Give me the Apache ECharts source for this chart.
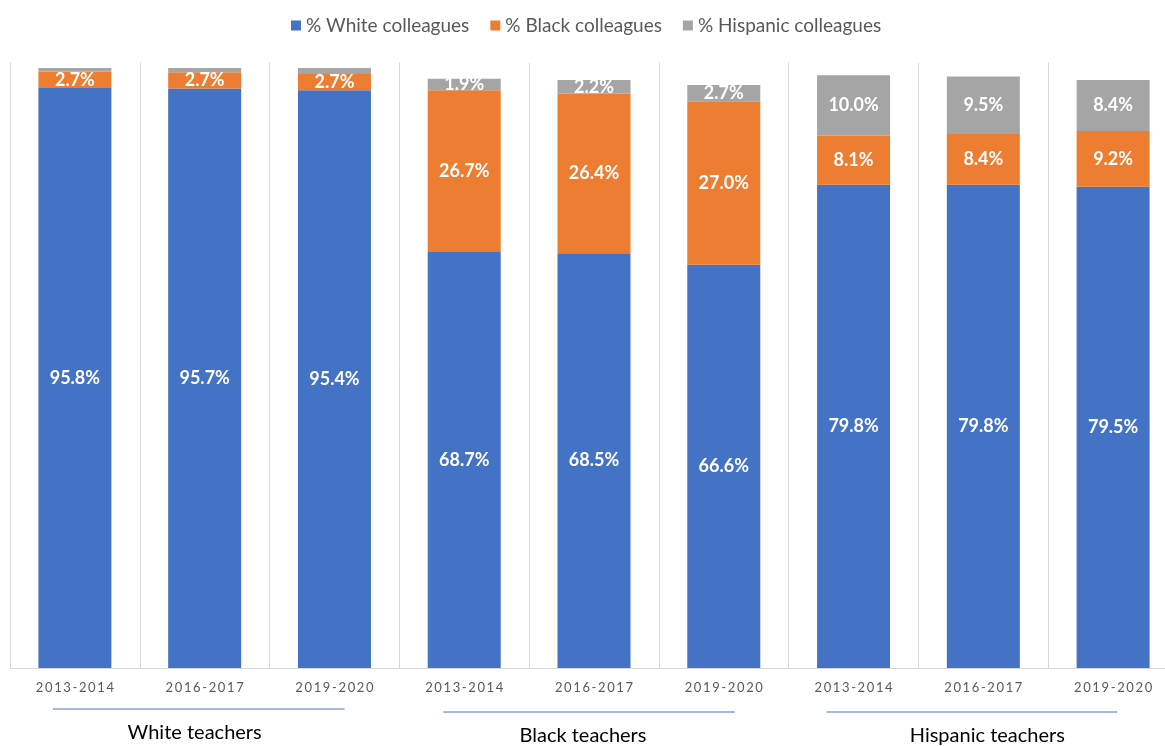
<!DOCTYPE html>
<html>
<head>
<meta charset="utf-8">
<script src="https://cdn.jsdelivr.net/npm/echarts@6/dist/echarts.min.js"></script>
<style>
html,body{margin:0;padding:0;background:#fff;}
#chart{width:1165px;height:746px;}
</style>
</head>
<body>
<div id="chart"></div>
<script>
const categories = ['2013-2014','2016-2017','2019-2020','2013-2014','2016-2017','2019-2020','2013-2014','2016-2017','2019-2020'];
const groups = ['White teachers','Black teachers','Hispanic teachers'];
const whiteColleagues = [95.8, 95.7, 95.4, 68.7, 68.5, 66.6, 79.8, 79.8, 79.5];
const blackColleagues = [2.7, 2.7, 2.7, 26.7, 26.4, 27.0, 8.1, 8.4, 9.2];
const hispanicColleagues = [0.6, 0.7, 1.0, 1.9, 2.2, 2.7, 10.0, 9.5, 8.4];
const seriesNames = ['% White colleagues','% Black colleagues','% Hispanic colleagues'];

const FONT = 'Lato, "Open Sans", sans-serif';
const spaced = s => s.split('').join('\u2009');
const groupPadding = [[0, 20, 0, 0], [3, 22, 0, 0], [3, 0, 0, 8]];

const chart = echarts.init(document.getElementById('chart'));
const labelOpt = {
  show: true,
  position: 'inside',
  color: '#fff',
  fontFamily: FONT,
  fontWeight: 'bold',
  fontSize: 18,
  formatter: p => p.value >= 1.5 ? p.value.toFixed(1) + '%' : ''
};
function bar(name, data, color) {
  return {
    name, type: 'bar', stack: 'total', data,
    barWidth: 73,
    itemStyle: { color },
    label: labelOpt,
    xAxisIndex: 0, yAxisIndex: 0
  };
}
chart.setOption({
  animation: false,
  textStyle: { fontFamily: FONT },
  legend: {
    data: seriesNames,
    left: 286, top: 11,
    itemWidth: 10, itemHeight: 10, itemGap: 21,
    icon: 'rect',
    textStyle: { color: '#595959', fontSize: 19, fontFamily: FONT }
  },
  grid: { left: 10, width: 1168, top: 62.5, height: 605.5, outerBoundsMode: 'none', containLabel: false },
  xAxis: [{
    type: 'category',
    data: categories,
    axisLine: { show: true, lineStyle: { color: '#d9d9d9', width: 1 } },
    axisTick: { show: false },
    splitLine: { show: true, lineStyle: { color: '#d9d9d9', width: 1 } },
    axisLabel: {
      color: '#595959', fontSize: 13, fontFamily: FONT, margin: 13,
      formatter: v => spaced(v)
    }
  }, {
    type: 'category',
    data: groups.map((g, i) => ({ value: g, textStyle: { padding: groupPadding[i] } })),
    position: 'bottom',
    axisLine: { show: false },
    axisTick: { show: false },
    splitLine: { show: false },
    axisLabel: { color: '#000', fontSize: 20, fontFamily: FONT, margin: 55 }
  }],
  yAxis: { type: 'value', min: 0, max: 100, show: false, splitLine: { show: false } },
  series: [
    bar(seriesNames[0], whiteColleagues, '#4472C4'),
    bar(seriesNames[1], blackColleagues, '#ED7D31'),
    bar(seriesNames[2], hispanicColleagues, '#A5A5A5')
  ]
});

// underline decorations for group labels
const lines = [];
const lineY = [709, 712, 712];
const lineOffsets = [[-22, 10], [-21, 11], [-27, 4]];
for (let g = 0; g < 3; g++) {
  const x1 = chart.convertToPixel({ xAxisIndex: 0 }, g * 3);
  const x2 = chart.convertToPixel({ xAxisIndex: 0 }, g * 3 + 2);
  lines.push({
    type: 'line',
    shape: { x1: x1 + lineOffsets[g][0], y1: lineY[g], x2: x2 + lineOffsets[g][1], y2: lineY[g] },
    style: { stroke: '#4472C4', lineWidth: 1 }
  });
}
chart.setOption({ graphic: lines });
</script>
</body>
</html>
